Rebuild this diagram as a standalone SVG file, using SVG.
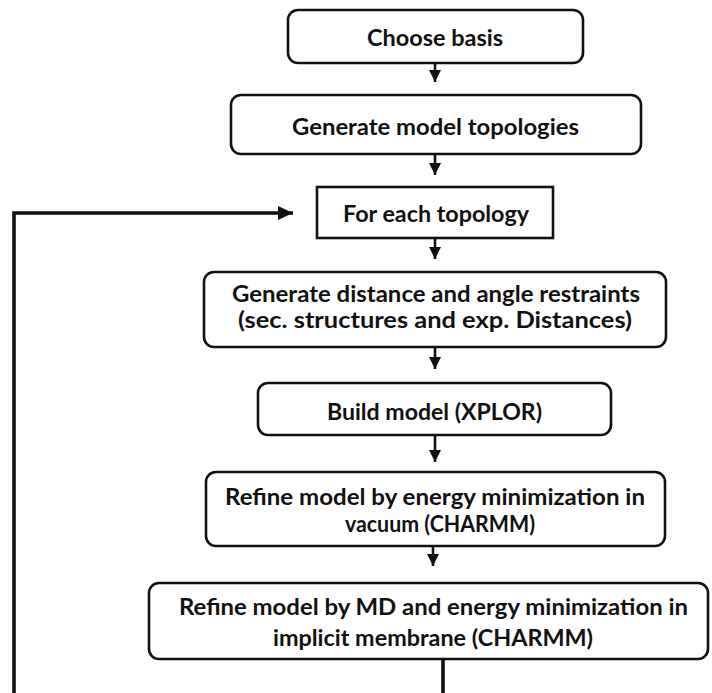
<svg xmlns="http://www.w3.org/2000/svg" width="712" height="693" viewBox="0 0 712 693">
<style>
.box{fill:#fff;stroke:#111;stroke-width:2.6}
.t{font-family:Lato,"Open Sans","Liberation Sans",sans-serif;font-weight:bold;font-size:23.5px;fill:#111;text-anchor:middle}
.c{fill:none;stroke:#111;stroke-width:2.6}
.loop{fill:none;stroke:#111;stroke-width:3.6}
</style>
<defs>
<marker id="ah" markerWidth="13" markerHeight="12" refX="12" refY="6" orient="auto" markerUnits="userSpaceOnUse">
<path d="M0,0 L12,6 L0,12 Z" fill="#111"/>
</marker>
<marker id="ahL" markerWidth="16" markerHeight="16" refX="15" refY="8" orient="auto" markerUnits="userSpaceOnUse">
<path d="M0,1 L15,8 L0,15 Z" fill="#111"/>
</marker>
</defs>
<rect width="712" height="693" fill="#fff"/>
<g id="connectors">
<line class="c" x1="435" y1="63" x2="435" y2="82" marker-end="url(#ah)"/>
<line class="c" x1="435" y1="154" x2="435" y2="175" marker-end="url(#ah)"/>
<line class="c" x1="435" y1="238" x2="435" y2="259" marker-end="url(#ah)"/>
<line class="c" x1="435" y1="347" x2="435" y2="369" marker-end="url(#ah)"/>
<line class="c" x1="435" y1="435" x2="435" y2="462" marker-end="url(#ah)"/>
<line class="c" x1="433" y1="546" x2="433" y2="566" marker-end="url(#ah)"/>
<path class="loop" d="M443,659 V693"/>
<path class="loop" d="M14,693 V213 H293" marker-end="url(#ahL)"/>
</g>
<g id="n1">
<rect class="box" x="288" y="10" width="295" height="53" rx="10"/>
<text class="t" x="435" y="46" textLength="136" lengthAdjust="spacingAndGlyphs">Choose basis</text>
</g>
<g id="n2">
<rect class="box" x="231" y="95" width="410" height="59" rx="10"/>
<text class="t" x="435.5" y="135" textLength="287" lengthAdjust="spacingAndGlyphs">Generate model topologies</text>
</g>
<g id="n3">
<rect class="box" x="317" y="187" width="236" height="51"/>
<text class="t" x="436" y="222" textLength="186" lengthAdjust="spacingAndGlyphs">For each topology</text>
</g>
<g id="n4">
<rect class="box" x="204" y="272" width="462" height="75" rx="10"/>
<text class="t" x="436" y="302" textLength="408" lengthAdjust="spacingAndGlyphs">Generate distance and angle restraints</text>
<text class="t" x="435" y="328" textLength="394" lengthAdjust="spacingAndGlyphs">(sec. structures and exp. Distances)</text>
</g>
<g id="n5">
<rect class="box" x="258" y="383" width="353" height="52" rx="10"/>
<text class="t" x="434.5" y="420" textLength="215" lengthAdjust="spacingAndGlyphs">Build model (XPLOR)</text>
</g>
<g id="n6">
<rect class="box" x="206" y="472" width="459" height="74" rx="10"/>
<text class="t" x="435" y="505" textLength="420" lengthAdjust="spacingAndGlyphs">Refine model by energy minimization in</text>
<text class="t" x="440" y="532" textLength="190" lengthAdjust="spacingAndGlyphs">vacuum (CHARMM)</text>
</g>
<g id="n7">
<rect class="box" x="149" y="583" width="559" height="76" rx="10"/>
<text class="t" x="433.5" y="615" textLength="509" lengthAdjust="spacingAndGlyphs">Refine model by MD and energy minimization in</text>
<text class="t" x="433" y="646" textLength="320" lengthAdjust="spacingAndGlyphs">implicit membrane (CHARMM)</text>
</g>
</svg>
